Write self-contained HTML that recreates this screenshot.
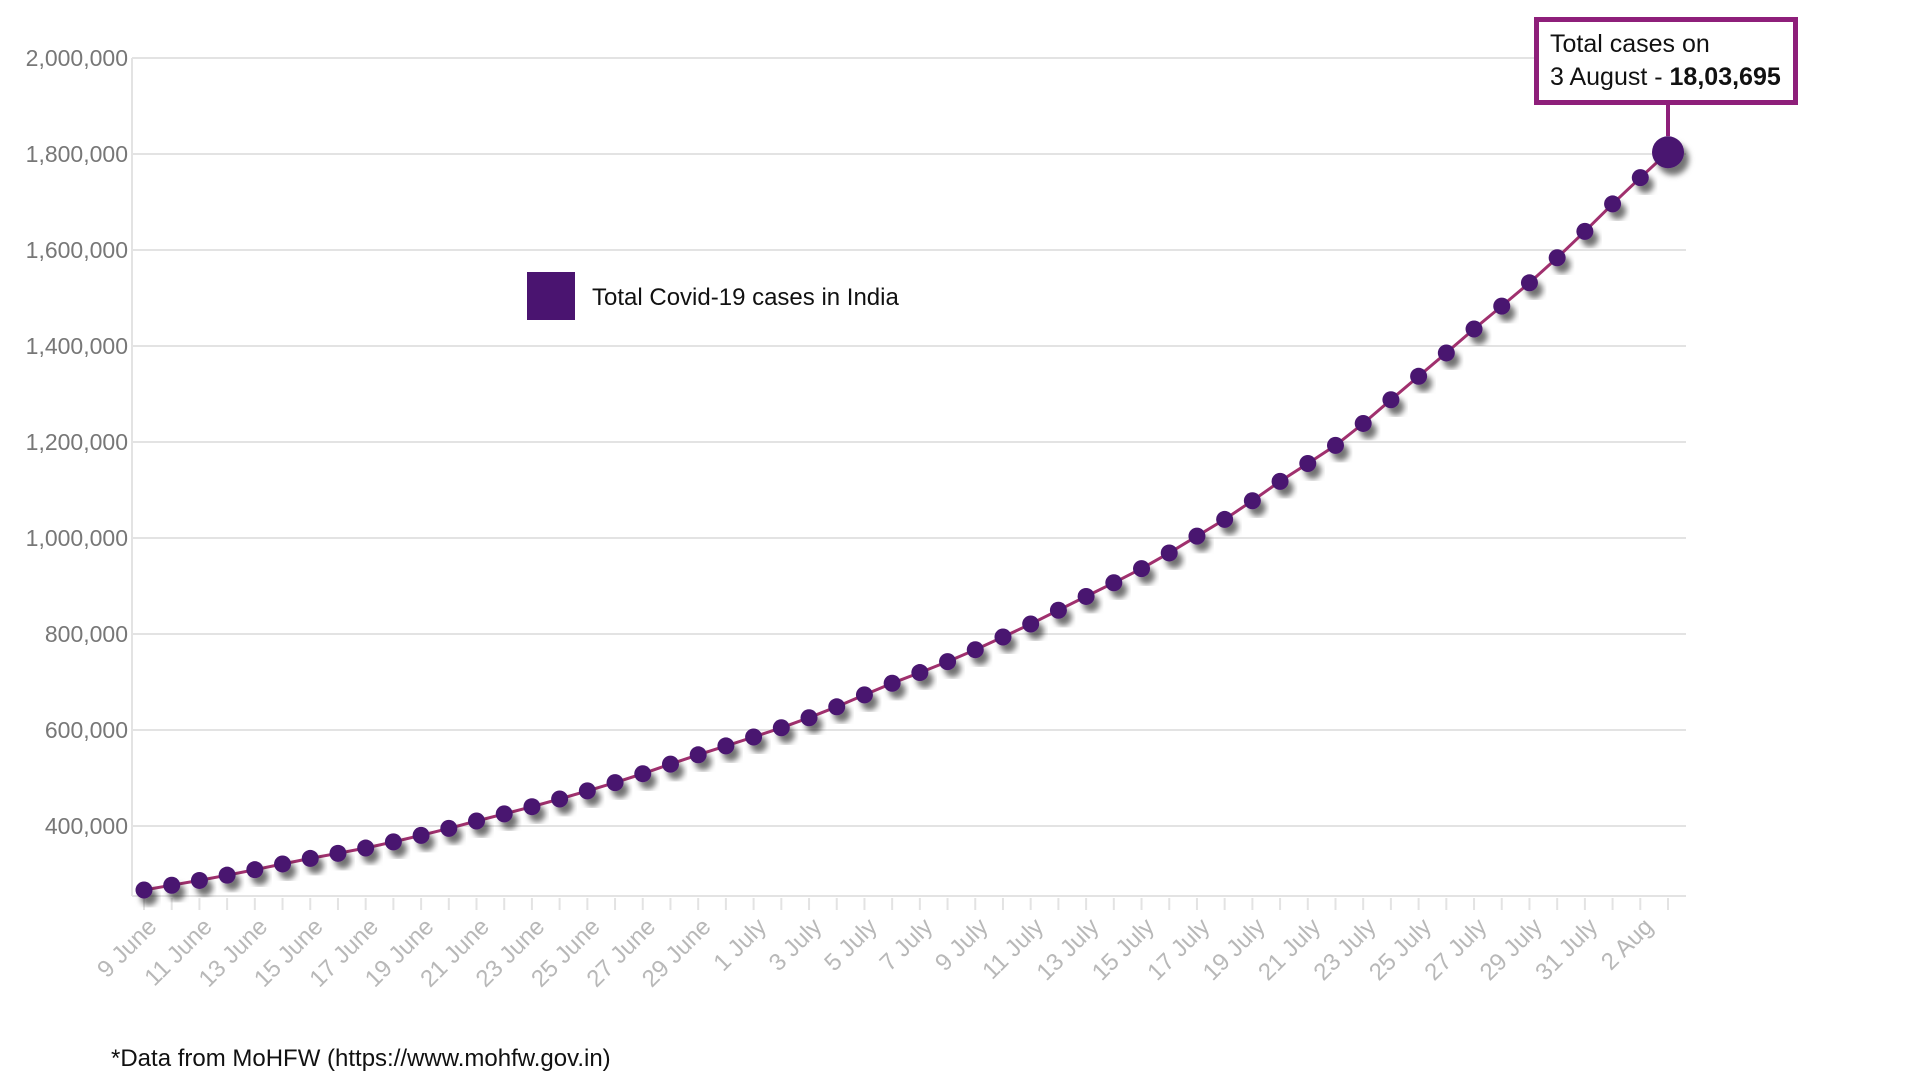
<!DOCTYPE html>
<html><head><meta charset="utf-8"><style>
html,body{margin:0;padding:0;background:#fff;width:1920px;height:1080px;overflow:hidden}
svg{display:block}
</style></head><body>
<svg id="chart" width="1920" height="1080" xmlns="http://www.w3.org/2000/svg" font-family="Liberation Sans, sans-serif">
<defs>
<filter id="sh" x="-50%" y="-50%" width="200%" height="200%"><feDropShadow dx="5" dy="7" stdDeviation="3" flood-color="#000" flood-opacity="0.55"/></filter>
</defs>
<g id="grid"></g>
<g id="yaxis"></g>
<g id="xaxis"></g>
<g id="series"></g>
<g>
<rect x="527" y="272" width="48" height="48" fill="#4a1470"/>
<text x="592" y="305" font-size="24" fill="#111">Total Covid-19 cases in India</text>
</g>
<g>
<line id="callLine" x1="1668" y1="104" x2="1668" y2="140" stroke="#8e1f7a" stroke-width="4"/>
<rect x="1536.5" y="19.5" width="259" height="83" fill="#fff" stroke="#8e1f7a" stroke-width="5"/>
<text x="1550" y="52" font-size="25" fill="#111">Total cases on</text>
<text x="1550" y="85" font-size="25" fill="#111">3 August - <tspan font-weight="bold">18,03,695</tspan></text>
</g>
<text x="111" y="1066" font-size="24" fill="#111">*Data from MoHFW (https://www.mohfw.gov.in)</text>
</svg>
<script>
const dayLabels = ["9 June","10 June","11 June","12 June","13 June","14 June","15 June","16 June","17 June","18 June","19 June","20 June","21 June","22 June","23 June","24 June","25 June","26 June","27 June","28 June","29 June","30 June","1 July","2 July","3 July","4 July","5 July","6 July","7 July","8 July","9 July","10 July","11 July","12 July","13 July","14 July","15 July","16 July","17 July","18 July","19 July","20 July","21 July","22 July","23 July","24 July","25 July","26 July","27 July","28 July","29 July","30 July","31 July","1 Aug","2 Aug","3 Aug"];
const totalCases = [266598,276583,286579,297535,308993,320922,332424,343091,354065,366946,380532,395048,410461,425282,440215,456183,473105,490401,508953,528859,548318,566840,585493,604641,625544,648315,673165,697413,719665,742417,767296,793802,820916,849553,878254,906752,936181,968876,1003832,1038716,1077618,1118043,1155191,1192915,1238635,1287945,1336861,1385522,1435453,1483156,1531669,1583792,1638870,1695988,1750723,1803695];
const yTicks = [400000,600000,800000,1000000,1200000,1400000,1600000,1800000,2000000];
const yTickLabels = ["400,000","600,000","800,000","1,000,000","1,200,000","1,400,000","1,600,000","1,800,000","2,000,000"];

const NS="http://www.w3.org/2000/svg";
const X0=144, DX=(1668-144)/55, Y2M=58, PXPER=96/200000;
const yMin = 2000000 - (896-58)/PXPER;
function xs(i){return X0+i*DX;}
function ys(v){return Y2M+(2000000-v)*PXPER;}
function mk(tag,attrs,parent){const e=document.createElementNS(NS,tag);for(const k in attrs)e.setAttribute(k,attrs[k]);parent.appendChild(e);return e;}
const grid=document.getElementById('grid'), yaxis=document.getElementById('yaxis'), xaxis=document.getElementById('xaxis'), series=document.getElementById('series');
yTicks.forEach((v,i)=>{
  const l=mk('line',{x1:132,x2:1686,y1:ys(v),y2:ys(v),stroke:'#e3e3e3','stroke-width':2},grid);
  
  
  const t=mk('text',{x:128,y:ys(v)+8,'text-anchor':'end','font-size':23,fill:'#777'},yaxis);
  
  
  t.textContent=yTickLabels[i];
});
const base=ys(yMin);
const ax=mk('line',{x1:132,x2:1686,y1:base,y2:base,stroke:'#e3e3e3','stroke-width':2},xaxis);


const vax=mk('line',{x1:132,x2:132,y1:ys(2000000),y2:base,stroke:'#e3e3e3','stroke-width':2},yaxis);


dayLabels.forEach((d,i)=>{
  const x=xs(i);
  const tk=mk('line',{x1:x,x2:x,y1:base+2,y2:base+14,stroke:'#e3e3e3','stroke-width':2},xaxis);
  
  
  if(i%2===0 && i<55){
    const tx=x+14, ty=base+32;
    const t=mk('text',{x:tx,y:ty,'text-anchor':'end','font-size':24,fill:'#b8b8b8',transform:`rotate(-45 ${tx} ${ty})`},xaxis);
    
    
    t.textContent=d;
  }
});
const pts=totalCases.map((v,i)=>xs(i).toFixed(1)+','+ys(v).toFixed(1)).join(' ');
const pl=mk('polyline',{points:pts,fill:'none',stroke:'#a0306e','stroke-width':3},series);


totalCases.forEach((v,i)=>{
  const last=i===totalCases.length-1;
  const c=mk('circle',{cx:xs(i),cy:ys(v),r:last?16:8.5,fill:'#4a1470',filter:'url(#sh)'},series);
  
  
});
const cl=document.getElementById('callLine');
cl.setAttribute('x1',xs(55));cl.setAttribute('x2',xs(55));cl.setAttribute('y2',ys(totalCases[55])-16);
</script>
</body></html>
